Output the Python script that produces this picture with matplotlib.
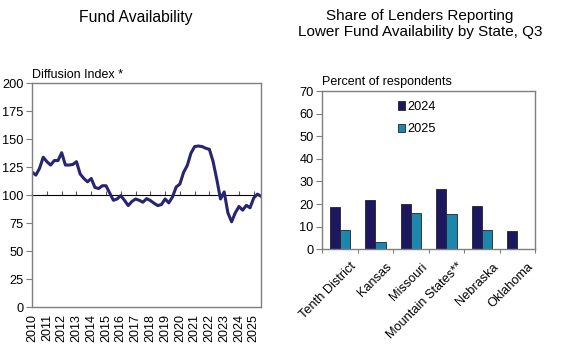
import matplotlib
matplotlib.use("Agg")
import matplotlib.pyplot as plt
import matplotlib.transforms as mtransforms
import numpy as np

plt.rcParams['font.family'] = ['Liberation Sans', 'DejaVu Sans']

# Diffusion index, quarterly 2010Q1 - 2025Q3
diffusion = [120.7, 118, 124, 134, 130, 127, 131, 131, 138, 127, 127, 127.5,
             130, 119, 115, 112, 115, 107, 106, 108.5, 108.5, 102, 95.5, 96.7,
             99.7, 95.5, 90.8, 94.4, 96.7, 95.5, 93.8, 97, 95.3, 92.9, 90.8, 91.7,
             96.7, 93.2, 98.5, 107.4, 110, 120.4, 126.6, 137.6, 143.5, 144, 143.5, 142,
             141, 130, 114, 96.7, 103, 84.3, 76.3, 84.3, 90, 86.7, 91, 88.8,
             97.6, 101, 99]
years = [str(y) for y in range(2010, 2026)]

# Share of lenders reporting lower fund availability
states = ['Tenth District', 'Kansas', 'Missouri', 'Mountain States**', 'Nebraska', 'Oklahoma']
share_2024 = [18.9, 21.8, 20.0, 26.7, 19.0, 8.2]
share_2025 = [8.4, 3.4, 16.1, 15.8, 8.7, 0]

LINE_COLOR = '#27256f'
C2024 = '#1d1760'
C2025 = '#1c86ad'
SPINE = '#7f7f7f'

fig = plt.figure(figsize=(5.64, 3.56), dpi=100)

# ---- left: line chart ----
ax1 = fig.add_axes([0.057, 0.137, 0.406, 0.629])
x = np.arange(len(diffusion))
ax1.plot(x, diffusion, color=LINE_COLOR, lw=2.2, solid_joinstyle='round')
ax1.set_xlim(0, len(diffusion) - 1)
ax1.set_ylim(0, 200)
ax1.set_yticks(range(0, 201, 25))
ax1.set_xticks(np.arange(0, len(diffusion), 4))
ax1.set_xticklabels(years, rotation=90)
ax1.tick_params(axis='x', length=0, pad=5, labelsize=9)
ax1.tick_params(axis='y', length=4, color=SPINE, labelsize=9.2, pad=2)
for s in ax1.spines.values():
    s.set_color(SPINE)
    s.set_linewidth(1)

# axis line at 100 with its ticks
sec = ax1.secondary_xaxis(0.5)
sec.set_xticks(np.arange(0, len(diffusion), 4))
sec.set_xticklabels([])
sec.tick_params(axis='x', direction='out', length=3, color='#555555')
sec.spines['bottom'].set_color('#555555')
sec.spines['bottom'].set_linewidth(1)

ax1.text(0, 1.01, 'Diffusion Index *', transform=ax1.transAxes, ha='left',
         va='bottom', fontsize=9)
fig.text(0.24, 0.952, 'Fund Availability', ha='center', va='center', fontsize=11.3)

# ---- right: bar chart ----
ax2 = fig.add_axes([0.571, 0.300, 0.378, 0.444])
xb = np.arange(len(states))
w = 0.29
ax2.bar(xb - w / 2, share_2024, w, color=C2024, edgecolor='#222222', lw=0.6, label='2024')
ax2.bar(xb + w / 2, share_2025, w, color=C2025, edgecolor='#222222', lw=0.6, label='2025')
ax2.set_xlim(-0.5, len(states) - 0.5)
ax2.set_ylim(0, 70)
ax2.set_yticks(range(0, 71, 10))
ax2.set_xticks(np.arange(-0.5, len(states), 1))
ax2.set_xticklabels([])
ax2.set_xticks(xb, minor=True)
ax2.set_xticklabels(states, minor=True, rotation=45, ha='right', va='top',
                    rotation_mode='anchor')
ax2.tick_params(axis='x', which='major', length=3, color=SPINE)
ax2.tick_params(axis='x', which='minor', length=0, pad=4, labelsize=9.2)
ax2.tick_params(axis='y', length=4, color=SPINE, labelsize=9.2, pad=2)
for s in ax2.spines.values():
    s.set_color(SPINE)
    s.set_linewidth(1)

# nudge the slanted category labels so their ends sit under the group centres
shift = mtransforms.ScaledTranslation(10 / 100, -6 / 100, fig.dpi_scale_trans)
for lbl in ax2.get_xticklabels(minor=True):
    lbl.set_transform(lbl.get_transform() + shift)

ax2.legend(loc='upper left', bbox_to_anchor=(0.33, 0.97), frameon=False,
           handlelength=0.6, handleheight=0.6, handletextpad=0.2,
           labelspacing=0.8, fontsize=9.2, borderaxespad=0)

ax2.text(0, 1.02, 'Percent of respondents', transform=ax2.transAxes, ha='left',
         va='bottom', fontsize=9)
fig.text(0.745, 0.933, 'Share of Lenders Reporting\nLower Fund Availability by State, Q3',
         ha='center', va='center', fontsize=11, linespacing=1.2)

fig.savefig('out.png', dpi=100, facecolor='white')
